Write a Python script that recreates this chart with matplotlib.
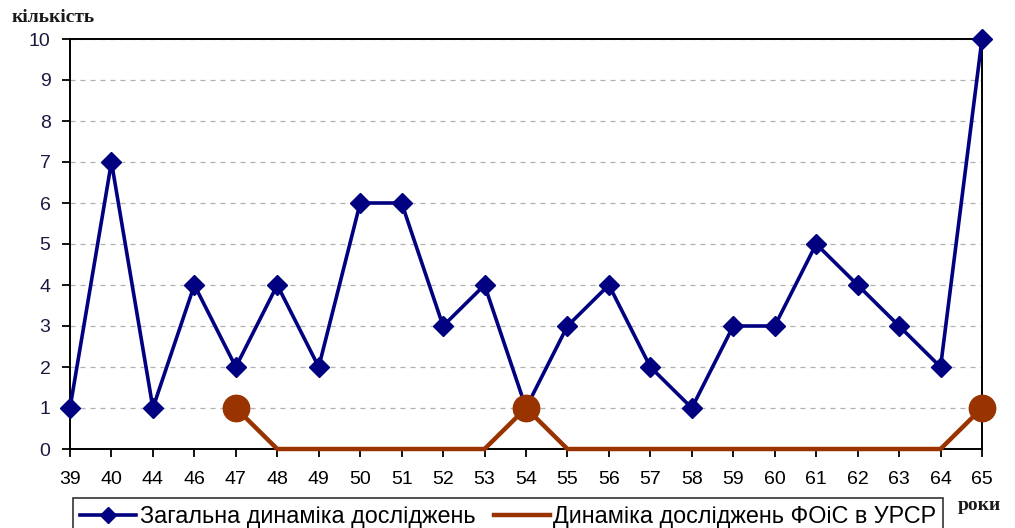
import matplotlib
matplotlib.use('Agg')
import matplotlib.pyplot as plt
import numpy as np

years = ['39', '40', '44', '46', '47', '48', '49', '50', '51', '52', '53', '54',
         '55', '56', '57', '58', '59', '60', '61', '62', '63', '64', '65']
total = [1, 7, 1, 4, 2, 4, 2, 6, 6, 3, 4, 1, 3, 4, 2, 1, 3, 3, 5, 4, 3, 2, 10]
urss = [np.nan, np.nan, np.nan, np.nan, 1, 0, 0, 0, 0, 0, 0, 1,
        0, 0, 0, 0, 0, 0, 0, 0, 0, 0, 1]

BLUE = '#000080'
BROWN = '#993300'

plt.rcParams['font.family'] = ['Liberation Sans', 'DejaVu Sans']

fig = plt.figure(figsize=(10.15, 5.28), dpi=100)
ax = fig.add_axes([70/1015, 1 - 449/528, 912/1015, 410/528])

x = np.arange(len(years))
# brown markers only where the value is not zero
marked = [i for i, v in enumerate(urss) if v == v and v != 0]

ax.plot(x, total, color=BLUE, linewidth=2.6, marker='D', markersize=10.5,
        label='Загальна динаміка досліджень', clip_on=False, zorder=4)
ax.plot(x, urss, color=BROWN, linewidth=3.2,
        label='Динаміка досліджень ФОіС в УРСР', clip_on=False, zorder=3)
ax.plot(x, urss, color=BROWN, linestyle='none', marker='o', markersize=19,
        markevery=marked, clip_on=False, zorder=5)

ax.set_xlim(0, len(years) - 1)
ax.set_ylim(0, 10)
ax.set_xticks(x)
ax.set_xticklabels(years)
ax.set_yticks(range(0, 11))
ax.tick_params(axis='x', labelsize=14, length=6, width=1.3, pad=10, colors='black')
ax.tick_params(axis='y', labelsize=14, length=6, width=1.3, pad=8, labelcolor='#1a1a40')
for s in ax.spines.values():
    s.set_color('black')
    s.set_linewidth(1.4)
ax.yaxis.grid(True, linestyle=(0, (4, 4)), color='#b0b0b0', linewidth=0.9)
ax.set_axisbelow(True)

fig.text(12/1015, 1 - 18/528, 'кількість', family=['Liberation Serif', 'DejaVu Serif'],
         fontsize=14, fontweight='bold', va='center', ha='left', color='#1a1a1a')
fig.text(958/1015, 1 - 506/528, 'роки', family=['Liberation Serif', 'DejaVu Serif'],
         fontsize=14, fontweight='bold', va='center', ha='left', color='#1a1a1a')

leg = fig.legend(loc='upper left', bbox_to_anchor=(73/1015, 1 - 498/528), ncol=2,
                 fontsize=16.8, frameon=True, fancybox=False, edgecolor='black',
                 handlelength=2.4, handletextpad=0.15, columnspacing=0.8,
                 borderpad=0.3, borderaxespad=0)
leg.get_frame().set_linewidth(1.2)
for h in leg.legend_handles:
    h.set_markersize(8)

fig.savefig('out.png', dpi=100, facecolor='white')
